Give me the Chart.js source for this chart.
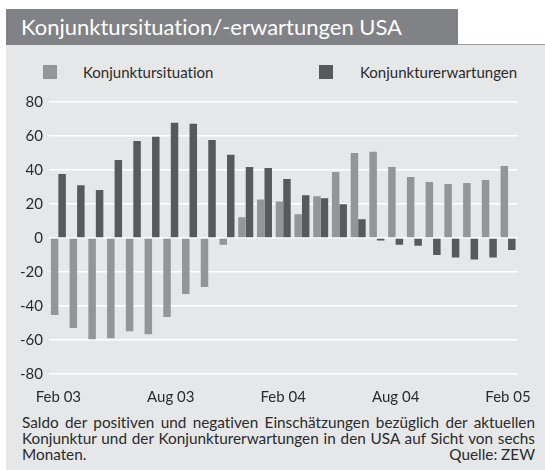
<!DOCTYPE html>
<html>
<head>
<meta charset="utf-8">
<script src="https://cdn.jsdelivr.net/npm/chart.js@4"></script>
<style>
  body { margin: 0; width: 545px; height: 470px; position: relative; background: #fff; font-family: Lato, sans-serif; color: #2b2b2b; overflow: hidden; font-variant-ligatures: none; }
  #panel { position: absolute; left: 6px; top: 44px; width: 539px; height: 426px; background: #e6e7e8; border-top: 1.5px solid #9d9fa2; box-sizing: border-box; }
  #title { position: absolute; left: 6px; top: 9px; width: 452px; height: 36px; background: #808285; color: #fff; font-size: 22px; line-height: 36px; padding-left: 15px; box-sizing: border-box; white-space: nowrap; }
  .sq { position: absolute; width: 14px; height: 14px; }
  .lg { position: absolute; font-size: 15px; line-height: 18px; white-space: nowrap; }
  #wrap { position: absolute; left: 6px; top: 46px; width: 539px; height: 365px; }
  #note { position: absolute; left: 22px; top: 414px; width: 513px; font-size: 15.3px; line-height: 16px; }
  #note div { text-align: justify; text-align-last: justify; }
  #note .last { display: flex; justify-content: space-between; text-align-last: auto; }
</style>
</head>
<body>
<div id="panel"></div>
<div id="title">Konjunktursituation/-erwartungen USA</div>
<div class="sq" style="left:43px;top:65px;background:#939598"></div>
<div class="lg" style="left:83px;top:63px">Konjunktursituation</div>
<div class="sq" style="left:319px;top:65px;background:#58595b"></div>
<div class="lg" style="left:360px;top:63px">Konjunkturerwartungen</div>
<div id="wrap"><canvas id="chart"></canvas></div>
<div id="note">
  <div>Saldo der positiven und negativen Einschätzungen bezüglich der aktuellen</div>
  <div>Konjunktur und der Konjunkturerwartungen in den USA auf Sicht von sechs</div>
  <div class="last"><span>Monaten.</span><span>Quelle: ZEW</span></div>
</div>
<script>
const months = ['Feb 03','Mrz 03','Apr 03','Mai 03','Jun 03','Jul 03','Aug 03','Sep 03','Okt 03','Nov 03','Dez 03','Jan 04',
  'Feb 04','Mrz 04','Apr 04','Mai 04','Jun 04','Jul 04','Aug 04','Sep 04','Okt 04','Nov 04','Dez 04','Jan 05','Feb 05'];
const situation = [-45.3,-53,-59.5,-58.9,-54.8,-56.6,-46.5,-33,-28.8,-3.9,12.2,22.6,
  21.4,14,24.6,38.8,50,50.7,41.8,35.9,32.9,31.7,32.3,34.1,42.4];
const erwartungen = [37.6,31.1,28.2,45.9,57.1,59.5,67.8,67.2,57.7,48.9,41.8,41.2,
  34.7,25.2,23.4,19.9,11,-1.5,-4,-4.5,-10,-11.5,-12.7,-11.5,-7];
const yTicks = [-80,-60,-40,-20,0,20,40,60,80];

const ctx = document.getElementById('chart');
new Chart(ctx, {
  type: 'bar',
  data: {
    labels: months,
    datasets: [
      { label: 'Konjunktursituation', data: situation, backgroundColor: '#939598', borderWidth: 0 },
      { label: 'Konjunkturerwartungen', data: erwartungen, backgroundColor: '#58595b', borderWidth: 0 }
    ]
  },
  options: {
    responsive: true,
    maintainAspectRatio: false,
    animation: false,
    categoryPercentage: 0.8,
    barPercentage: 1.0,
    layout: { padding: { top: 56, right: 12, left: 0, bottom: 0 } },
    plugins: { legend: { display: false }, tooltip: { enabled: false } },
    scales: {
      x: {
        grid: { display: false, drawTicks: false },
        border: { display: false },
        ticks: {
          autoSkip: false, maxRotation: 0, padding: 14,
          color: '#2b2b2b', font: { family: 'Lato', size: 15 },
          callback: function(v, i) { return i % 6 === 0 ? months[i] : ''; }
        },
        afterFit: function(s) { s.height = 37; }
      },
      y: {
        min: -80, max: 80,
        afterBuildTicks: function(s) { s.ticks = yTicks.map(v => ({ value: v })); },
        grid: { color: '#ffffff', lineWidth: 1.5, drawTicks: false },
        border: { display: false },
        ticks: { padding: 6, color: '#2b2b2b', font: { family: 'Lato', size: 15 } },
        afterFit: function(s) { s.width = 43; }
      }
    }
  }
});
</script>
</body>
</html>
